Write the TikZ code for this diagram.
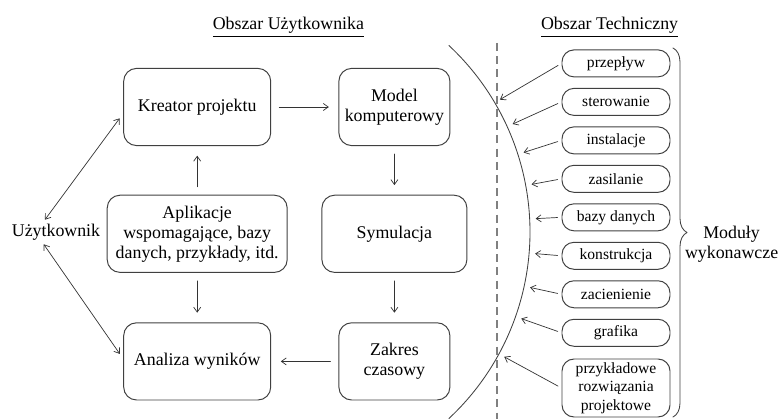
\documentclass[tikz,border=0pt]{standalone}
\usepackage{fontspec}
\setmainfont{Liberation Serif}
\usetikzlibrary{arrows.meta, positioning, calc, decorations.pathreplacing}
\definecolor{ramka}{gray}{0.25}
\definecolor{kreska}{gray}{0.5}
\tikzset{
	blok/.style={draw=ramka, line width=0.7pt, rounded corners=0.32cm, minimum height=1.93cm, align=center, font=\fontsize{12.7}{14.2}\selectfont},
	modul/.style={draw=ramka, line width=0.7pt, rounded corners=0.3cm, minimum width=2.7cm, minimum height=0.675cm, inner sep=1pt, align=center, font=\fontsize{11.1}{13.1}\selectfont},
	strz/.style={-{Straight Barb[length=3.5pt,width=5pt]}, draw=black!80, line width=0.5pt},
	dwustr/.style={{Straight Barb[length=3.5pt,width=5pt]}-{Straight Barb[length=3.5pt,width=5pt]}, draw=black!80, line width=0.5pt},
}

\begin{document}
\begin{tikzpicture}[line join=round,line cap=round]
		\useasboundingbox (0,0) rectangle (19.45,10.475);
		\begin{scope}[font=\fontsize{12.7}{14.2}\selectfont]
		\node[anchor=base] (tytul1) at (7.21,9.725) {\underline{Obszar Użytkownika}};
		\node[anchor=base] (tytul2) at (15.24,9.725) {\underline{Obszar Techniczny}};
		\node[minimum height=0.6cm, inner sep=0pt] (uzytkownik) at (1.4,4.675) {Użytkownik};
		\node[align=center] (moduly) at (18.29,4.37) {Moduły\\wykonawcze};
		\end{scope}
		% obszar uzytkownika
		\node[blok, minimum width=3.675cm] (kreator)   at (4.93,7.8)  {Kreator projektu};
		\node[blok, minimum width=2.775cm] (model)     at (9.86,7.8)  {Model\\komputerowy};
		\node[blok, minimum width=4.5cm]   (aplikacje) at (4.93,4.63) {Aplikacje\\wspomagające, bazy\\danych, przykłady, itd.};
		\node[blok, minimum width=3.625cm] (symulacja) at (9.86,4.63) {Symulacja};
		\node[blok, minimum width=3.675cm] (analiza)   at (4.93,1.44) {Analiza wyników};
		\node[blok, minimum width=2.775cm] (zakres)    at (9.86,1.44) {Zakres\\czasowy};
		\begin{scope}[shorten <=0.2cm, shorten >=0.24cm]
		\draw[strz] (kreator) -- (model);
		\draw[strz] (aplikacje) -- (kreator);
		\draw[strz] (aplikacje) -- (analiza);
		\draw[strz] (model) -- (symulacja);
		\draw[strz] (symulacja) -- (zakres);
		\draw[strz] (zakres) -- (analiza);
		\end{scope}
		\draw[dwustr, shorten >=0.15cm] (uzytkownik.132) -- (kreator.185);
		\draw[dwustr, shorten >=0.15cm] (uzytkownik.225) -- (analiza.178);
		% granica obszarow
		\draw[kreska, line width=1pt, dash pattern=on 0.2cm off 0.13cm, line cap=butt] (12.425,9.4) -- (12.425,0);
		\coordinate (srodek) at (6.875,4.675);
		\draw[ramka, line width=0.6pt] (srodek) ++(-47:6.375) arc[start angle=-47, end angle=47, radius=6.375];
		% moduly wykonawcze
		\foreach \nazwa [count=\i] in {przepływ, sterowanie, instalacje, zasilanie, bazy danych, konstrukcja, zacienienie, grafika}
			\node[modul] (m\i) at (15.4,{8.89-0.962*(\i-1)}) {\nazwa};
		\node[modul, minimum height=1.45cm] (m9) at (15.4,0.775) {przykładowe\\rozwiązania\\projektowe};
		\foreach \i in {1,...,9}
			\draw[strz, shorten <=0.1cm] (m\i.west) -- ($(srodek)!6.525cm!(m\i.west)$);
		\draw[ramka, line width=0.6pt, decorate, decoration={brace, amplitude=0.35cm}] (16.825,9.275) -- (16.825,0.05);
	\end{tikzpicture}
\end{document}
